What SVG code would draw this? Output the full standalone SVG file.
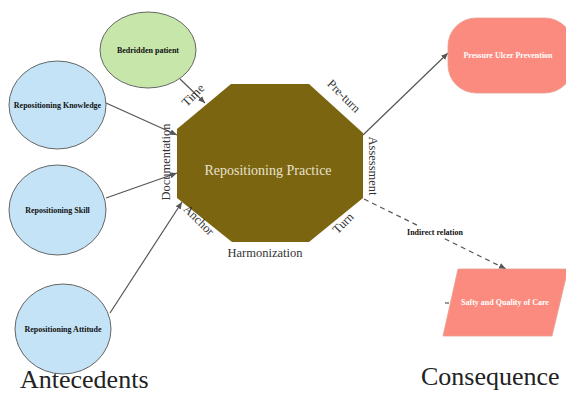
<svg xmlns="http://www.w3.org/2000/svg" width="566" height="395" viewBox="0 0 566 395">
<style>
text{font-family:'Liberation Serif','Times New Roman',serif;}
.node{stroke:#666;stroke-width:1;}
.blue{fill:#c5e3f6;}
.green{fill:#c6e6aa;}
.salmon{fill:#fb8b7e;stroke:#e9a090;stroke-width:0.8;}
.nlabel{font-size:8px;font-weight:bold;fill:#111;text-anchor:middle;}
.wlabel{font-size:8px;font-weight:bold;fill:#fff;text-anchor:middle;}
.edge{font-size:12.5px;fill:#333;text-anchor:middle;}
.conn{stroke:#555;stroke-width:1.2;fill:none;}
.big{font-size:26px;fill:#222;}
</style>
<defs>
<marker id="arr" markerWidth="8" markerHeight="8" refX="7" refY="4" orient="auto" markerUnits="userSpaceOnUse">
<path d="M0,1 L7,4 L0,7 z" fill="#555"/>
</marker>
</defs>
<rect width="566" height="395" fill="#fff"/>
<g id="connectors">
<line class="conn" x1="180" y1="79" x2="205" y2="103" marker-end="url(#arr)"/>
<line class="conn" x1="106" y1="103" x2="177" y2="135" marker-end="url(#arr)"/>
<line class="conn" x1="106" y1="198" x2="177" y2="173" marker-end="url(#arr)"/>
<line class="conn" x1="110" y1="313" x2="182" y2="202" marker-end="url(#arr)"/>
<line class="conn" x1="363" y1="135" x2="448" y2="53" marker-end="url(#arr)"/>
<line class="conn" x1="364" y1="199" x2="506" y2="269" stroke-dasharray="5,4" marker-end="url(#arr)"/>
<line class="conn" x1="445" y1="303" x2="449" y2="303"/>
<rect x="399" y="226" width="72" height="12" fill="#fff"/>
<text class="nlabel" x="435" y="235" font-size="9px">Indirect relation</text>
</g>
<g id="bedridden">
<ellipse class="node green" cx="148" cy="50" rx="48" ry="38"/>
<text class="nlabel" x="148" y="53">Bedridden patient</text>
</g>
<g id="knowledge">
<ellipse class="node blue" cx="57.5" cy="105" rx="48.5" ry="44"/>
<text class="nlabel" x="57.5" y="108">Repositioning Knowledge</text>
</g>
<g id="skill">
<ellipse class="node blue" cx="57.5" cy="210" rx="48.5" ry="45"/>
<text class="nlabel" x="57.5" y="213">Repositioning Skill</text>
</g>
<g id="attitude">
<ellipse class="node blue" cx="63" cy="329" rx="48" ry="45"/>
<text class="nlabel" x="63" y="332">Repositioning Attitude</text>
</g>
<g id="practice">
<polygon points="231,84 309,84 363,133 363,198 309,242 232,242 177,198 177,129" fill="#7b6511"/>
<text x="268" y="175" font-size="14" fill="#e8e2cc" text-anchor="middle">Repositioning Practice</text>
<text class="edge" transform="translate(196,98) rotate(-45)">Time</text>
<text class="edge" transform="translate(341,99) rotate(45)">Pre-turn</text>
<text class="edge" transform="translate(369,166) rotate(90)">Assessment</text>
<text class="edge" transform="translate(346,226) rotate(-45)">Turn</text>
<text class="edge" x="265" y="257">Harmonization</text>
<text class="edge" transform="translate(196,223) rotate(45)">Anchor</text>
<text class="edge" transform="translate(170,162) rotate(-90)">Documentation</text>
</g>
<g id="pressure">
<rect class="salmon" x="448" y="18" width="125" height="75" rx="28" ry="28"/>
<text class="wlabel" x="508" y="58">Pressure Ulcer Prevention</text>
</g>
<g id="safety">
<polygon class="salmon" points="458,269 568,269 552,336 443,336"/>
<text class="wlabel" x="505" y="305" font-weight="normal">Safty and Quality of Care</text>
</g>
<text class="big" x="20" y="388">Antecedents</text>
<text class="big" x="421" y="385">Consequence</text>
</svg>
